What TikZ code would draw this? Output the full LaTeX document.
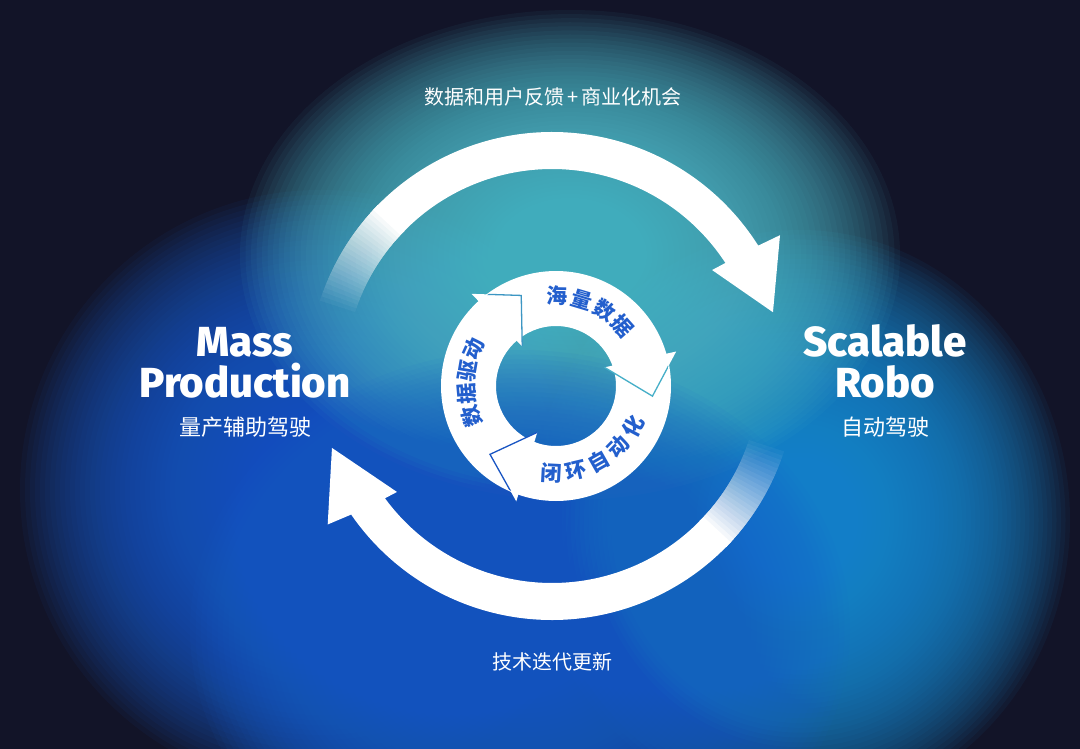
\documentclass[tikz,border=0pt]{standalone}
\usepackage{fontspec}
\newfontfamily\cjk{Noto Sans CJK SC}
\newfontfamily\headfont{Fira Sans ExtraBold}
\usetikzlibrary{calc}
\definecolor{cBg}{RGB}{18,20,40}
\definecolor{cTeal}{RGB}{80,188,204}
\definecolor{cBlueL}{RGB}{20,92,205}
\definecolor{cBlueM}{RGB}{22,98,205}
\definecolor{cBlueR}{RGB}{32,142,216}
\definecolor{cTxt}{RGB}{35,95,205}
\definecolor{cLineA}{RGB}{60,150,195}
\definecolor{cLineB}{RGB}{70,175,200}
\definecolor{cLineC}{RGB}{25,85,195}
\newcommand\glowblob[5]{%
  \foreach \k in {0,...,59} {%
    \fill[#5, opacity=0.06] (#1,#2) ellipse [x radius={#3*(1-\k/60)}, y radius={#4*(1-\k/60)}];
  }%
}
\tikzset{
  ringtxt/.style={text=cTxt, font=\cjk\bfseries\fontsize{21}{21}\selectfont, inner sep=0pt},
  engtxt/.style={text=white, font=\headfont\fontsize{42}{42}\selectfont, inner sep=0pt, anchor=base},
  cntxt/.style={text=white, font=\cjk\fontsize{22}{22}\selectfont, inner sep=0pt, anchor=base},
  lbltxt/.style={text=white, font=\cjk\fontsize{20}{20}\selectfont, inner sep=0pt},
}
\begin{document}
\begin{tikzpicture}[x=1pt,y=-1pt]
\useasboundingbox (0,0) rectangle (1080,749);
\fill[cBg] (0,0) rectangle (1080,749);
% glow blobs
\glowblob{320}{490}{300}{300}{cBlueL}
\glowblob{800}{520}{270}{290}{cBlueR}
\glowblob{570}{255}{330}{245}{cTeal}
\glowblob{520}{630}{330}{280}{cBlueM}

% big cycle
\coordinate (C) at (552,376);
\begin{scope}[shift={(C)}]
  \fill[white] (-136:244) arc[start angle=-136,end angle=-32.3,radius=244]
     -- (-31.7:268) -- (-16.1:230) -- (-33.5:192) -- (-33.1:207)
     arc[start angle=-33.1,end angle=-136,radius=207] -- cycle;
  \foreach \k in {1,...,24} {
    \pgfmathsetmacro\a{-162+(\k-1)*26/24}
    \pgfmathsetmacro\op{1/(25-\k)}
    \fill[white, opacity=\op] (\a:244) arc[start angle=\a,end angle=-135.5,radius=244]
       -- (-135.5:207) arc[start angle=-135.5,end angle=\a,radius=207] -- cycle;
  }
  \fill[white] (44:244) arc[start angle=44,end angle=145.4,radius=244]
     -- (146.5:269) -- (161.9:231.5) -- (143.2:193.6) -- (143.8:207)
     arc[start angle=143.8,end angle=44,radius=207] -- cycle;
  \foreach \k in {1,...,24} {
    \pgfmathsetmacro\a{18+(\k-1)*26/24}
    \pgfmathsetmacro\op{1/(25-\k)}
    \fill[white, opacity=\op] (\a:244) arc[start angle=\a,end angle=44.5,radius=244]
       -- (44.5:207) arc[start angle=44.5,end angle=\a,radius=207] -- cycle;
  }
\end{scope}

% inner ring
\coordinate (c) at (556,386);
\begin{scope}[shift={(c)}]
  \fill[white, even odd rule] (0,0) circle (115) (0,0) circle (60);
  \fill[white] (-132.5:125) -- (-111:97) -- (-130.5:52) -- cycle;
  \fill[white] (-16:125) -- (6:97) -- (-21:52) -- cycle;
  \fill[white] (109:122) -- (134:95) -- (112:50) -- cycle;
  \begin{scope}
    \clip (0,0) circle (114);
    \draw[cLineA, line width=1.3] (-130.5:52) -- (-111:97) -- (-132.5:125);
    \draw[cLineB, line width=1.3] (-21:52) -- (6:97) -- (-16:125);
    \draw[cLineC, line width=1.3] (112:50) -- (134:95) -- (109:122);
  \end{scope}
  \foreach \ch/\ang [count=\i] in {海/-89,量/-73.3,数/-57.6,据/-42} {
    \pgfmathsetmacro\rot{-1*(\ang)-90}
    \node[ringtxt, rotate=\rot] (ha\i) at (\ang:90) {\ch};
  }
  \foreach \ch/\ang [count=\i] in {数/160.5,据/175.1,驱/189.7,动/204.3} {
    \pgfmathsetmacro\rot{-1*(\ang)-90}
    \node[ringtxt, rotate=\rot] (hb\i) at (\ang:90) {\ch};
  }
  \foreach \ch/\ang [count=\i] in {闭/93,环/76.75,自/60.5,动/44.25,化/28} {
    \pgfmathsetmacro\rot{90-(\ang)}
    \node[ringtxt, rotate=\rot] (hc\i) at (\ang:87) {\ch};
  }
\end{scope}

% labels
\node[lbltxt] (toplbl) at (553,97) {数据和用户反馈\,+\,商业化机会};
\node[lbltxt] (botlbl) at (552,662) {技术迭代更新};
\node[engtxt] (mass) at (245,356) {Mass};
\node[engtxt] (prod) at (245,397) {Production};
\node[cntxt] (mpcn) at (245,435) {量产辅助驾驶};
\node[engtxt] (scal) at (885,356) {Scalable};
\node[engtxt] (robo) at (885,397) {Robo};
\node[cntxt] (srcn) at (885,435) {自动驾驶};
\end{tikzpicture}
\end{document}
